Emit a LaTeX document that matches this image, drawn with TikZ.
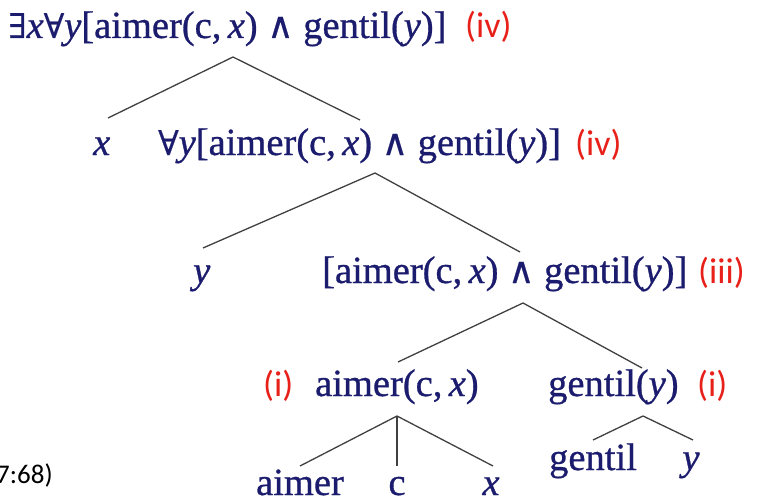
\documentclass[tikz,border=0pt]{standalone}
\usepackage{fontspec}
\setmainfont{Liberation Serif}[
  BoldFont={Liberation Serif}, BoldFeatures={FakeBold=0.8},
  BoldItalicFont={Liberation Serif Italic}, BoldItalicFeatures={FakeBold=0.8}]
\newfontfamily\symf{DejaVu Serif}[BoldFont={DejaVu Serif}, BoldFeatures={FakeBold=0.5}]
\newfontfamily\lblf{Carlito}
\definecolor{navy}{HTML}{1C1C6E}
\definecolor{lblred}{HTML}{E8201A}
\definecolor{edgegray}{HTML}{404040}
\tikzset{
  txt/.style={inner sep=0pt, text=navy, font=\bfseries\fontsize{38.5}{42}\selectfont},
  lbl/.style={inner sep=0pt, text=lblred, font=\lblf\fontsize{36}{42}\selectfont},
  edge/.style={draw=edgegray, line width=1.3pt},
}
\newcommand{\vx}{\textit{x}}
\newcommand{\vy}{\textit{y}}
\newcommand{\allq}{{\symf\fontsize{34}{40}\selectfont ∀}}
\newcommand{\exq}{{\symf\fontsize{34}{40}\selectfont ∃}}
\newcommand{\andq}{{\symf\fontsize{36}{40}\selectfont ∧}}
\begin{document}
\begin{tikzpicture}[x=1pt,y=-1pt]
\useasboundingbox (0,0) rectangle (771,503);
% row 1
\node[txt, anchor=base west] (r1) at (8,38) {\exq\vx\allq\vy[aimer(c,\,\vx) \andq{} gentil(\vy)]};
\node[lbl, anchor=base west] (l1) at (465,38) {(iv)};
% row 2
\node[txt, anchor=base west] (r2x) at (93,155) {\vx};
\node[txt, anchor=base west] (r2) at (158,155) {\allq\vy[aimer(c,\,\vx) \andq{} gentil(\vy)]};
\node[lbl, anchor=base west] (l2) at (575,155) {(iv)};
% row 3
\node[txt, anchor=base west] (r3y) at (193,283) {\vy};
\node[txt, anchor=base west] (r3) at (322,283) {[aimer(c,\,\vx) \andq{} gentil(\vy)]};
\node[lbl, anchor=base west] (l3) at (698,283) {(iii)};
% row 4
\node[lbl, anchor=base west] (l4a) at (263,396) {(i)};
\node[txt, anchor=base west] (r4a) at (315,396) {aimer(c,\,\vx)};
\node[txt, anchor=base west] (r4b) at (548,396) {gentil(\vy)};
\node[lbl, anchor=base west] (l4b) at (697,396) {(i)};
% row 5
\node[txt, anchor=base] (r5a) at (300,495) {aimer};
\node[txt, anchor=base] (r5c) at (397,495) {c};
\node[txt, anchor=base] (r5x) at (491,495) {\vx};
\node[txt, anchor=base] (r5g) at (593,470) {gentil};
\node[txt, anchor=base] (r5y) at (691,470) {\vy};
% cut-off fragment
\node[inner sep=0pt, anchor=base west, font=\lblf\fontsize{27}{32}\selectfont] (frag) at (-4,483) {7:68)};
% connectors
\coordinate (t1) at (233,57);
\coordinate (f1a) at (108,118);
\coordinate (f1b) at (360,120);
\coordinate (t2) at (375,173);
\coordinate (f2a) at (203,248);
\coordinate (f2b) at (520,252);
\coordinate (t3) at (523,303);
\coordinate (f3a) at (398,362);
\coordinate (f3b) at (642,368);
\coordinate (t4) at (397,416);
\coordinate (f4a) at (300,466);
\coordinate (f4b) at (397,466);
\coordinate (f4c) at (493,466);
\coordinate (t5) at (643,416);
\coordinate (f5a) at (593,440);
\coordinate (f5b) at (693,440);
\draw[edge] (f1a) -- (t1) -- (f1b);
\draw[edge] (f2a) -- (t2) -- (f2b);
\draw[edge] (f3a) -- (t3) -- (f3b);
\draw[edge] (f4a) -- (t4) -- (f4c);
\draw[edge] (t4) -- (f4b);
\draw[edge] (f5a) -- (t5) -- (f5b);
\end{tikzpicture}
\end{document}
